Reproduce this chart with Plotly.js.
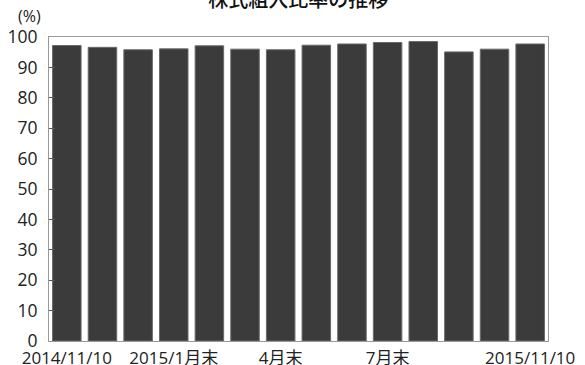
<!DOCTYPE html>
<html>
<head>
<meta charset="utf-8">
<script src="https://cdn.plot.ly/plotly-3.0.1.min.js"></script>
<style>
  html, body { margin: 0; padding: 0; background: #fff; }
  #chart { width: 585px; height: 365px; }
</style>
</head>
<body>
<div id="chart"></div>
<script>
// 株式組入比率（%）の月次推移
const periods = ['2014/11/10', '2014/11月末', '12月末', '2015/1月末', '2月末', '3月末', '4月末',
                 '5月末', '6月末', '7月末', '8月末', '9月末', '10月末', '2015/11/10'];
const ratios = [97.2, 96.6, 95.8, 96.1, 97.1, 96.0, 95.8, 97.3, 97.7, 98.2, 98.5, 95.1, 96.0, 97.7];
const shownTicks = ['2014/11/10', '2015/1月末', '4月末', '7月末', '2015/11/10'];
const yTicks = [0, 10, 20, 30, 40, 50, 60, 70, 80, 90, 100];

const FONT = '"Open Sans", "Noto Sans CJK JP", sans-serif';

const trace = {
  type: 'bar',
  x: periods,
  y: ratios,
  marker: { color: '#3b3b3b', line: { color: '#6a6a6a', width: 1 } },
  hoverinfo: 'x+y'
};

const layout = {
  width: 585,
  height: 365,
  margin: { l: 49, r: 37, t: 37, b: 24, pad: 0 },
  paper_bgcolor: '#ffffff',
  plot_bgcolor: '#ffffff',
  font: { family: FONT, size: 16, color: '#222' },
  bargap: 0.2,
  showlegend: false,
  title: {
    text: '株式組入比率の推移',
    font: { family: '"Noto Sans CJK JP", sans-serif', size: 20, color: '#111', weight: 500 },
    x: 0.51, xanchor: 'center',
    y: 1, yref: 'container', yanchor: 'middle'
  },
  xaxis: {
    type: 'category',
    range: [-0.5, 13.5],
    tickmode: 'array',
    tickvals: shownTicks,
    ticktext: shownTicks,
    ticks: '',
    ticklabelstandoff: 2,
    showgrid: false,
    zeroline: false,
    showline: true,
    linecolor: '#999',
    linewidth: 1,
    mirror: true,
    tickangle: 0,
    tickfont: { family: FONT, size: 17, color: '#222' }
  },
  yaxis: {
    range: [0, 100],
    tickmode: 'array',
    tickvals: yTicks,
    ticks: 'inside',
    ticklen: 6,
    tickcolor: '#555',
    ticklabelstandoff: 7,
    showgrid: false,
    zeroline: false,
    showline: true,
    linecolor: '#999',
    linewidth: 1,
    mirror: true,
    tickfont: { family: FONT, size: 17.5, color: '#222' }
  },
  annotations: [{
    text: '(%)',
    xref: 'paper', yref: 'paper',
    x: -0.012, y: 1.027,
    xanchor: 'right', yanchor: 'bottom',
    showarrow: false,
    font: { family: FONT, size: 16, color: '#222' }
  }]
};

Plotly.newPlot('chart', [trace], layout, { displayModeBar: false, staticPlot: true });
</script>
</body>
</html>
